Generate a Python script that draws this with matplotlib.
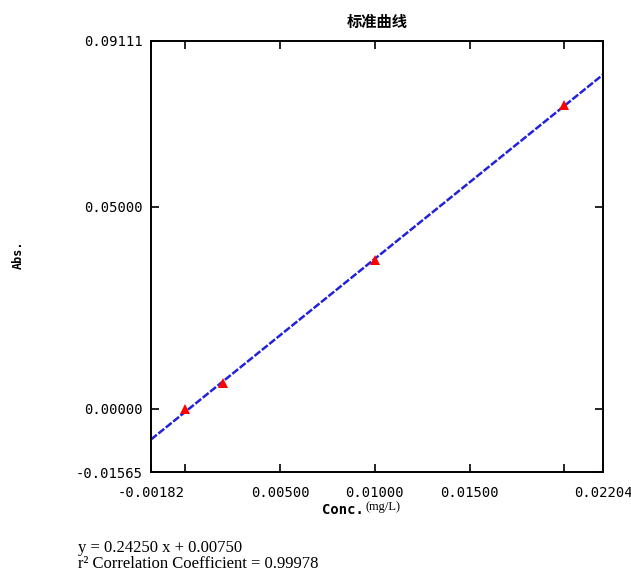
import numpy as np
import matplotlib.pyplot as plt

# standard points
conc = [0.0, 0.002, 0.010, 0.020]
absb = [0.0, 0.0063, 0.0368, 0.0753]

x_min, x_max = -0.00182, 0.02204
y_min, y_max = -0.01565, 0.09111

x_ticks = [x_min, 0.0, 0.005, 0.010, 0.015, 0.020, x_max]
x_labels = ["-0.00182", "", "0.00500", "0.01000", "0.01500", "", "0.02204"]
y_ticks = [y_min, 0.0, 0.05, y_max]
y_labels = ["-0.01565", "0.00000", "0.05000", "0.09111"]

eq_text = "y = 0.24250 x + 0.00750"
r2_text = "r² Correlation Coefficient = 0.99978"

fig = plt.figure(figsize=(6.31, 5.74), dpi=100)
ax = fig.add_axes([151/631, 1-472/574, (603-151)/631, (472-41)/574])

# fitted line over the whole axis
k, b = np.polyfit(conc, absb, 1)
xx = np.array([x_min, x_max])
ax.plot(xx, k*xx + b, color="#2222dd", lw=1.8, linestyle=(0, (3, 0.8)))
ax.plot(conc, absb, '^', color="red", markersize=7, markeredgewidth=0)

ax.set_xlim(x_min, x_max)
ax.set_ylim(y_min, y_max)
ax.set_xticks(x_ticks)
ax.set_xticklabels(x_labels, family="DejaVu Sans Mono", fontsize=10)
ax.set_yticks(y_ticks)
ax.set_yticklabels(y_labels, family="DejaVu Sans Mono", fontsize=10)
ax.tick_params(direction="in", length=6, width=1.2, top=True, right=True, pad=10)
ax.tick_params(axis="y", pad=6)
for s in ax.spines.values():
    s.set_linewidth(1.4)

ax.set_title("标准曲线", family=["Noto Sans CJK SC", "DejaVu Sans"], fontsize=11,
             fontweight="bold", pad=10)
fig.text(18/631, 1-255/574, "Abs.", rotation=90, ha="center", va="center",
         family="DejaVu Sans Mono", fontweight="bold", fontsize=8.5)
fig.text(364/631, 1-510/574, "Conc.", ha="right", va="center",
         family="DejaVu Sans Mono", fontweight="bold", fontsize=10)
fig.text(365/631, 1-507/574, "(mg/L)", ha="left", va="center",
         family="Liberation Serif", fontsize=9)

fig.text(78/631, 1-548/574, eq_text, ha="left", va="center",
         family="Liberation Serif", fontsize=12)
fig.text(78/631, 1-564/574, r2_text, ha="left", va="center",
         family="Liberation Serif", fontsize=12)

fig.savefig("out.png", dpi=100)
